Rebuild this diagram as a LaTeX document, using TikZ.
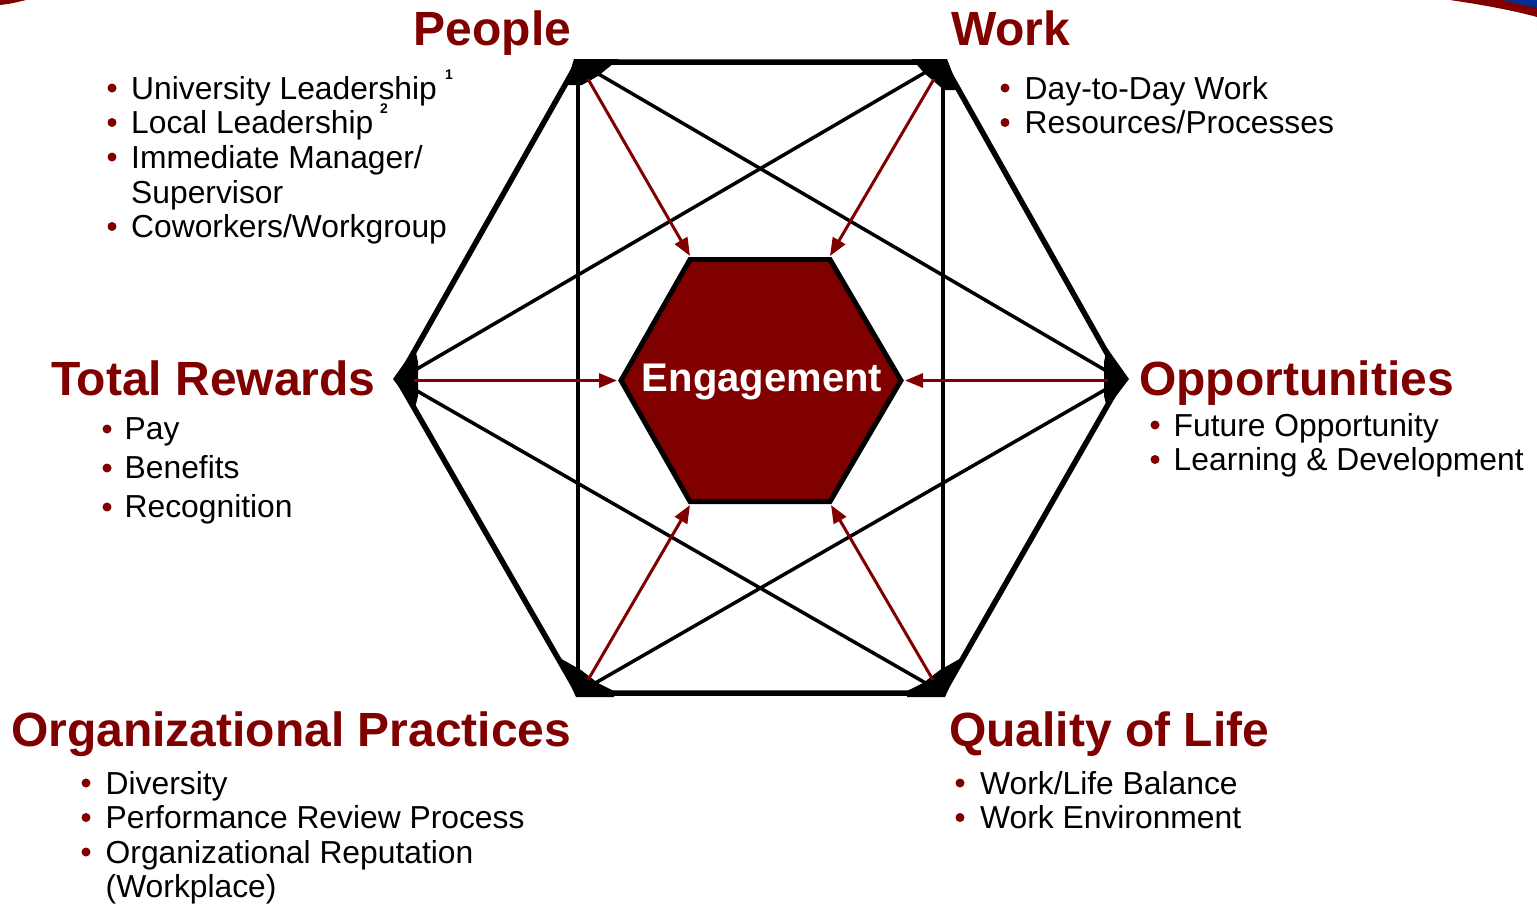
\documentclass[tikz,border=0pt]{standalone}
\usepackage{fontspec}
\setmainfont{Liberation Sans}
\usetikzlibrary{arrows.meta}
\definecolor{maroonred}{RGB}{128,0,0}
\definecolor{decoblue}{RGB}{0,48,150}
\begin{document}
\begin{tikzpicture}[x=1pt,y=-1pt,
  title/.style={anchor=base west, inner sep=0pt, text=maroonred,
    font=\fontsize{48}{52}\selectfont\bfseries},
  item/.style={anchor=base west, inner sep=0pt,
    font=\fontsize{31.8}{35}\selectfont},
  supnum/.style={anchor=base west, inner sep=0pt,
    font=\fontsize{14}{15}\selectfont\bfseries},
  bulletdot/.style={circle, fill=maroonred, inner sep=0pt, minimum size=9pt},
  hexedge/.style={line width=5.5pt, line join=miter},
  crossline/.style={line width=3.5pt},
  cornerblob/.style={fill=black},
  feedarrow/.style={draw=maroonred, line width=3pt,
    -{Triangle[length=18pt,width=14pt]}},
  corehex/.style={fill=maroonred, draw=black, line width=5pt, line join=miter}
]
\useasboundingbox (0,0) rectangle (1537,903);

% slide decoration in the corners
\fill[maroonred] (0,0) -- (0,5) .. controls (10,4) and (18,2) .. (26,0) -- cycle;
\fill[maroonred] (1450,0) .. controls (1490,6) and (1515,11) .. (1537,17) -- (1537,0) -- cycle;
\fill[decoblue] (1503,0) .. controls (1515,3) and (1528,6) .. (1537,8) -- (1537,0) -- cycle;

% outer hexagon corners
\coordinate (TL) at (578,62);
\coordinate (TR) at (943,62);
\coordinate (R)  at (1122,380);
\coordinate (BR) at (943,693);
\coordinate (BL) at (578,693);
\coordinate (L)  at (398,380);

% inner hexagon corners
\coordinate (E1) at (621,380.5);
\coordinate (E2) at (690,259.5);
\coordinate (E3) at (830,259.5);
\coordinate (E4) at (901,380.5);
\coordinate (E5) at (830,501.5);
\coordinate (E6) at (690,501.5);

% outer hexagon and the two crossing triangles
\draw[hexedge] (TL) -- (TR) -- (R) -- (BR) -- (BL) -- (L) -- cycle;
\draw[crossline] (TL) -- (BL);
\draw[crossline] (TR) -- (BR);
\draw[crossline] (TL) -- (R);
\draw[crossline] (R) -- (BL);
\draw[crossline] (TR) -- (L);
\draw[crossline] (L) -- (BR);

% filled joints at the corners
\fill[cornerblob] (574,59) -- (619,59) -- (598,76) -- (582,85) -- (566,85) -- cycle;
\fill[cornerblob] (912,59) -- (947,59) -- (959,90) -- (944,90) -- (924,73) -- cycle;
\fill[cornerblob] (558,657) -- (581,670) -- (598,683) -- (614,691) -- (614,697) -- (576,697) -- cycle;
\fill[cornerblob] (963,657) -- (940,670) -- (923,683) -- (907,691) -- (907,697) -- (945,697) -- cycle;
\fill[cornerblob] (415,348) -- (393,379) -- (415,408) -- (418,396) -- (418,362) -- cycle;
\fill[cornerblob] (1107,348) -- (1129,379) -- (1107,408) -- (1104,396) -- (1104,362) -- cycle;

% arrow start points
\coordinate (aTL) at (588,79);
\coordinate (aTR) at (934,79);
\coordinate (aL)  at (414,380.5);
\coordinate (aR)  at (1108,380.5);
\coordinate (aBL) at (588,680);
\coordinate (aBR) at (933,680);
% arrow end points on the inner hexagon
\coordinate (bTL) at (690,256);
\coordinate (bTR) at (830,256);
\coordinate (bL)  at (617,380.5);
\coordinate (bR)  at (905,380.5);
\coordinate (bBL) at (690,505);
\coordinate (bBR) at (831,505);

\draw[feedarrow] (aTL) -- (bTL);
\draw[feedarrow] (aTR) -- (bTR);
\draw[feedarrow] (aL) -- (bL);
\draw[feedarrow] (aR) -- (bR);
\draw[feedarrow] (aBL) -- (bBL);
\draw[feedarrow] (aBR) -- (bBR);

% engagement core
\draw[corehex] (E1) -- (E2) -- (E3) -- (E4) -- (E5) -- (E6) -- cycle;
\node[anchor=base, inner sep=0pt, text=white,
  font=\fontsize{40}{44}\selectfont\bfseries] (core) at (762,391) {Engagement};

% People
\node[title] (people) at (413.5,45) {People};
\node[bulletdot] (p1) at (112,88) {};
\node[item] (pt1) at (131,99) {University Leadership};
\node[supnum] (s1) at (445,79) {1};
\node[bulletdot] (p2) at (112,122.5) {};
\node[item] (pt2) at (131,133.5) {Local Leadership};
\node[supnum] (s2) at (380,113) {2};
\node[bulletdot] (p3) at (112,157) {};
\node[item] (pt3) at (131,168) {Immediate Manager/};
\node[item] (pt3b) at (131,203) {Supervisor};
\node[bulletdot] (p4) at (112,226.5) {};
\node[item] (pt4) at (131,237.5) {Coworkers/Workgroup};

% Work
\node[title] (work) at (951,45) {Work};
\node[bulletdot] (w1) at (1005,88) {};
\node[item] (wt1) at (1024.5,99) {Day-to-Day Work};
\node[bulletdot] (w2) at (1005,122.5) {};
\node[item] (wt2) at (1024.5,133.5) {Resources/Processes};

% Total Rewards
\node[title] (rewards) at (51,395) {Total Rewards};
\node[bulletdot] (r1) at (107,429) {};
\node[item] (rt1) at (124.5,439) {Pay};
\node[bulletdot] (r2) at (107,468) {};
\node[item] (rt2) at (124.5,478) {Benefits};
\node[bulletdot] (r3) at (107,507) {};
\node[item] (rt3) at (124.5,517) {Recognition};

% Opportunities
\node[title] (opps) at (1139,395) {Opportunities};
\node[bulletdot] (o1) at (1155,425) {};
\node[item] (ot1) at (1173.5,436) {Future Opportunity};
\node[bulletdot] (o2) at (1155,459.5) {};
\node[item] (ot2) at (1173.5,470.5) {Learning \& Development};

% Organizational Practices
\node[title] (orgprac) at (11,746) {Organizational Practices};
\node[bulletdot] (g1) at (86,783) {};
\node[item] (gt1) at (105.5,794) {Diversity};
\node[bulletdot] (g2) at (86,817.5) {};
\node[item] (gt2) at (105.5,828.5) {Performance Review Process};
\node[bulletdot] (g3) at (86,852) {};
\node[item] (gt3) at (105.5,863) {Organizational Reputation};
\node[item] (gt3b) at (105.5,897.5) {(Workplace)};

% Quality of Life
\node[title] (qol) at (949,746) {Quality of Life};
\node[bulletdot] (q1) at (960,783) {};
\node[item] (qt1) at (980,794) {Work/Life Balance};
\node[bulletdot] (q2) at (960,817.5) {};
\node[item] (qt2) at (980,828.5) {Work Environment};
\end{tikzpicture}
\end{document}
